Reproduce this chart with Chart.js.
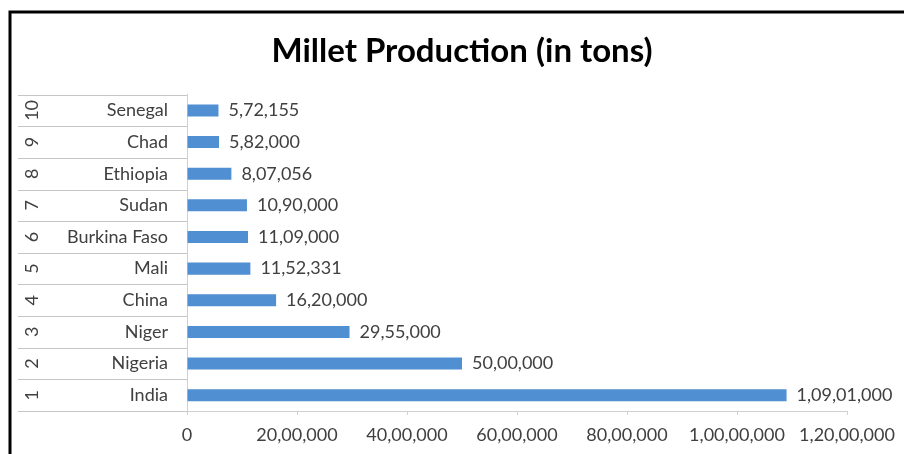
<!DOCTYPE html>
<html>
<head>
<meta charset="utf-8">
<script src="https://cdn.jsdelivr.net/npm/chart.js@4"></script>
<style>
  html, body { margin: 0; padding: 0; background: #fff; }
  #wrap { width: 904px; height: 454px; position: relative; }
</style>
</head>
<body>
<div id="wrap"><canvas id="millet-chart" width="904" height="454"></canvas></div>
<script>
// Chart data
const ranks = ["1", "2", "3", "4", "5", "6", "7", "8", "9", "10"];
const countries = ["India", "Nigeria", "Niger", "China", "Mali", "Burkina Faso", "Sudan", "Ethiopia", "Chad", "Senegal"];
const production = [10901000, 5000000, 2955000, 1620000, 1152331, 1109000, 1090000, 807056, 582000, 572155];
const axisMin = 0;
const axisMax = 12000000;
const axisStep = 2000000;

const FONT = "Lato, 'Open Sans', sans-serif";

// Indian digit grouping: 1,09,01,000
function formatIN(n) {
  const s = Math.round(n).toString();
  if (s.length <= 3) return s;
  const last3 = s.slice(-3);
  const rest = s.slice(0, -3).replace(/\B(?=(\d{2})+(?!\d))/g, ",");
  return rest + "," + last3;
}

// Frame lines (top and left edge of the screenshot)
const framePlugin = {
  id: "frame",
  afterDraw(chart) {
    const ctx = chart.ctx;
    ctx.save();
    ctx.strokeStyle = "#000";
    ctx.lineWidth = 3;
    ctx.beginPath();
    ctx.moveTo(10, 454);
    ctx.lineTo(10, 12);
    ctx.lineTo(904, 12);
    ctx.stroke();
    ctx.restore();
  }
};

// Centre the title over the whole picture rather than the padded box
const titleShift = {
  id: "titleShift",
  beforeDraw(chart) {
    if (chart.titleBlock) {
      chart.titleBlock.left = 77;
      chart.titleBlock.right = 847;
    }
  }
};

// Rank column + row separators in the label area
const rankPlugin = {
  id: "rankLabels",
  afterDraw(chart) {
    const ctx = chart.ctx;
    const y = chart.scales.y;
    const left = 18;
    const right = chart.chartArea.left;
    const half = Math.abs(y.getPixelForValue(1) - y.getPixelForValue(0)) / 2;
    ctx.save();
    ctx.strokeStyle = "#c6c6c6";
    ctx.lineWidth = 1;
    ranks.forEach((r, i) => {
      const cy = y.getPixelForValue(i);
      [cy - half, cy + half].forEach(ly => {
        ctx.beginPath();
        ctx.moveTo(left, Math.round(ly) + 0.5);
        ctx.lineTo(right, Math.round(ly) + 0.5);
        ctx.stroke();
      });
      ctx.save();
      ctx.translate(32, cy);
      ctx.rotate(-Math.PI / 2);
      ctx.fillStyle = "#404040";
      ctx.font = "18px " + FONT;
      ctx.textAlign = "center";
      ctx.textBaseline = "middle";
      ctx.fillText(r, 0, 0);
      ctx.restore();
    });
    ctx.restore();
  }
};

// Value labels at the end of each bar
const valueLabelPlugin = {
  id: "valueLabels",
  afterDatasetsDraw(chart) {
    const ctx = chart.ctx;
    const meta = chart.getDatasetMeta(0);
    ctx.save();
    ctx.fillStyle = "#404040";
    ctx.font = "18px " + FONT;
    ctx.textAlign = "left";
    ctx.textBaseline = "middle";
    meta.data.forEach((bar, i) => {
      ctx.fillText(formatIN(production[i]), bar.x + 10, bar.y);
    });
    ctx.restore();
  }
};

const ctx = document.getElementById("millet-chart").getContext("2d");
new Chart(ctx, {
  type: "bar",
  data: {
    labels: countries,
    datasets: [{
      data: production,
      backgroundColor: "#4f8fd2",
      borderWidth: 0,
      barPercentage: 0.38,
      categoryPercentage: 1
    }]
  },
  options: {
    indexAxis: "y",
    responsive: false,
    animation: false,
    layout: { padding: { left: 0, right: 57, top: 0, bottom: 0 } },
    plugins: {
      legend: { display: false },
      tooltip: { enabled: false },
      title: {
        display: true,
        text: "Millet Production (in tons)",
        color: "#000",
        font: { family: FONT, size: 33, weight: "bold" },
        padding: { top: 32, bottom: 23 }
      }
    },
    scales: {
      x: {
        min: axisMin,
        max: axisMax,
        grid: { drawOnChartArea: false, drawTicks: true, tickLength: 4, color: "#d0d0d0" },
        border: { color: "#d0d0d0" },
        ticks: {
          stepSize: axisStep,
          padding: 9,
          maxRotation: 0,
          color: "#404040",
          font: { family: FONT, size: 18 },
          callback: v => formatIN(v)
        },
        afterFit(scale) { scale.height = 43; }
      },
      y: {
        reverse: true,
        grid: { drawOnChartArea: false, drawTicks: false },
        border: { color: "#d0d0d0" },
        ticks: {
          padding: 19,
          color: "#404040",
          font: { family: FONT, size: 18 }
        },
        afterFit(scale) { scale.width = 187; }
      }
    }
  },
  plugins: [framePlugin, titleShift, rankPlugin, valueLabelPlugin]
});
</script>
</body>
</html>
